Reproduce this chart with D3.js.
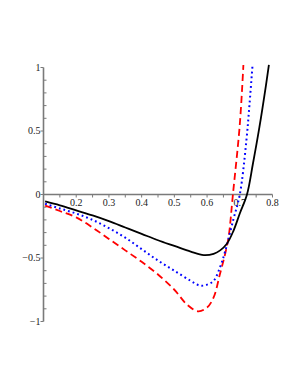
<!DOCTYPE html>
<html>
<head>
<meta charset="utf-8">
<script src="https://cdn.jsdelivr.net/npm/d3@7"></script>
<style>
  body { margin: 0; background: #fff; }
</style>
</head>
<body>
<div id="chart"></div>
<script>
//set variables
let width = 300,
    height = 388;

// data
const blackX = [0.105, 0.15, 0.2, 0.25, 0.3, 0.35, 0.4, 0.45, 0.5, 0.55, 0.59, 0.62, 0.64, 0.66, 0.68, 0.70, 0.722, 0.74, 0.76, 0.78, 0.789];
const blackY = [-0.055, -0.085, -0.125, -0.165, -0.21, -0.26, -0.31, -0.36, -0.405, -0.45, -0.477, -0.467, -0.44, -0.39, -0.29, -0.15, 0, 0.24, 0.53, 0.86, 1.02];

const blueX = [0.105, 0.15, 0.2, 0.25, 0.3, 0.35, 0.4, 0.45, 0.5, 0.55, 0.578, 0.6, 0.62, 0.64, 0.655, 0.68, 0.70, 0.72, 0.73, 0.739];
const blueY = [-0.073, -0.11, -0.15, -0.2, -0.265, -0.34, -0.43, -0.52, -0.60, -0.68, -0.717, -0.71, -0.68, -0.57, -0.45, -0.2, 0, 0.42, 0.72, 1.02];

const redX = [0.105, 0.15, 0.2, 0.25, 0.3, 0.35, 0.4, 0.45, 0.5, 0.54, 0.573, 0.6, 0.62, 0.64, 0.655, 0.666, 0.679, 0.70, 0.711];
const redY = [-0.087, -0.13, -0.18, -0.26, -0.35, -0.44, -0.53, -0.63, -0.75, -0.87, -0.92, -0.89, -0.81, -0.62, -0.47, -0.33, 0, 0.55, 1.02];

const xTicks = [0.2, 0.3, 0.4, 0.5, 0.6, 0.7, 0.8];
const yTicks = [1, 0.5, 0, -0.5, -1];

const svg = d3.select("#chart")
  .append("svg")
  .attr("width", width)
  .attr("height", height)
  .style("font-family", "'Liberation Serif', 'DejaVu Serif', serif")
  .style("font-size", "10px");

let x = d3.scaleLinear()
  .domain([0.1, 0.8])
  .range([43.5, 272.5]);

let y = d3.scaleLinear()
  .domain([-1, 1])
  .range([321.5, 67.5]);

const axisColor = "#7a7a7a";

// x axis at y = 0
const xa = svg.append("g")
  .attr("transform", `translate(0,${y(0)})`);
xa.append("line")
  .attr("x1", x(0.1)).attr("x2", x(0.8))
  .attr("stroke", axisColor).attr("stroke-width", 1.6);
xa.selectAll(".minor")
  .data(d3.range(0.1, 0.801, 0.05))
  .join("line")
  .attr("x1", d => x(d)).attr("x2", d => x(d))
  .attr("y1", 0).attr("y2", 3)
  .attr("stroke", axisColor).attr("stroke-width", 1);
xa.selectAll("text")
  .data(xTicks)
  .join("text")
  .attr("x", d => x(d))
  .attr("y", 11)
  .attr("text-anchor", "middle")
  .attr("fill", "#222")
  .text(d => d3.format(".1f")(d));

// y axis at x = 0.1
const ya = svg.append("g")
  .attr("transform", `translate(${x(0.1)},0)`);
ya.append("line")
  .attr("y1", y(1)).attr("y2", y(-1))
  .attr("stroke", axisColor).attr("stroke-width", 1.6);
ya.selectAll(".minor")
  .data(d3.range(-10, 11).map(d => d / 10).filter(d => !yTicks.includes(d)))
  .join("line")
  .attr("y1", d => y(d)).attr("y2", d => y(d))
  .attr("x1", 0).attr("x2", 3)
  .attr("stroke", axisColor).attr("stroke-width", 1);
ya.selectAll(".major")
  .data(yTicks)
  .join("line")
  .attr("y1", d => y(d)).attr("y2", d => y(d))
  .attr("x1", -3).attr("x2", 0)
  .attr("stroke", axisColor).attr("stroke-width", 1);
ya.selectAll("text")
  .data(yTicks)
  .join("text")
  .attr("x", -3)
  .attr("y", d => y(d) + 3)
  .attr("text-anchor", "end")
  .attr("fill", "#222")
  .text(d => d < 0 ? "\u2212" + Math.abs(d) : d);

// curves
const line = d3.line()
  .x(d => x(d[0]))
  .y(d => y(d[1]))
  .curve(d3.curveCatmullRom.alpha(0.5));

const series = [
  { xs: redX, ys: redY, color: "#ff0000", dash: "7,4", w: 1.8 },
  { xs: blueX, ys: blueY, color: "#0000ff", dash: "1.8,3", w: 2 },
  { xs: blackX, ys: blackY, color: "#000000", dash: null, w: 1.8 }
];

series.forEach(s => {
  svg.append("path")
    .datum(s.xs.map((v, i) => [v, s.ys[i]]))
    .attr("d", line)
    .attr("fill", "none")
    .attr("stroke", s.color)
    .attr("stroke-width", s.w)
    .attr("stroke-dasharray", s.dash);
});
</script>
</body>
</html>
